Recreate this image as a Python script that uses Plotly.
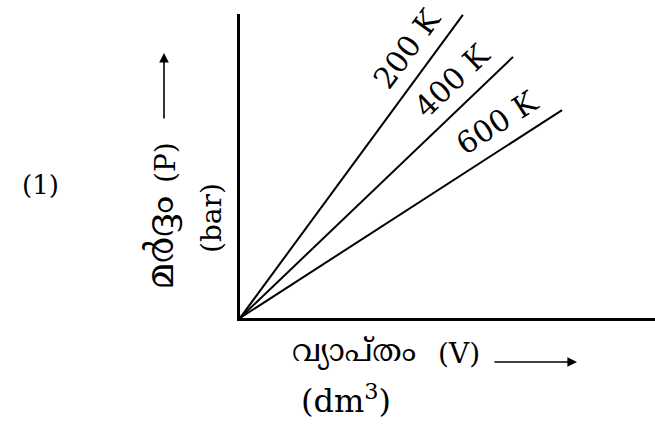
import math
import plotly.graph_objects as go

# Isotherm labels and end points of each straight line (V in dm3, P in bar)
temps = ["200 K", "400 K", "600 K"]
v_end = [5.37, 6.58, 7.76]
p_end = [9.97, 8.59, 6.84]

W, H = 655, 430
X0, X1 = 240, 655      # pixel extent of the x axis
Y0, Y1 = 318, 14       # pixel extent of the y axis (bottom, top)
XR, YR = [0, 10], [0, 10]
px_x = (X1 - X0) / (XR[1] - XR[0])
px_y = (Y0 - Y1) / (YR[1] - YR[0])

SERIF = "DejaVu Serif, Liberation Serif, serif"
MAL = "Noto Serif Malayalam, Noto Sans Malayalam, Lohit Malayalam, Rachana, Meera, " + SERIF

fig = go.Figure()
annotations = []
for name, v, p in zip(temps, v_end, p_end):
    fig.add_trace(go.Scatter(x=[0, v], y=[0, p], mode="lines",
                             line=dict(color="black", width=2),
                             showlegend=False, hoverinfo="skip"))
    dx, dy = v * px_x, p * px_y
    length = math.hypot(dx, dy)
    ang = math.degrees(math.atan2(dy, dx))
    ux, uy = dx / length, dy / length
    f = 0.84
    off = 25
    annotations.append(dict(
        x=v * f, y=p * f, xref="x", yref="y", text=name, showarrow=False,
        xanchor="center", yanchor="middle",
        textangle=-ang, xshift=-uy * off, yshift=ux * off,
        font=dict(family=SERIF, size=30, color="black")))


def px(x, y):
    return x / W, 1 - y / H


def label(x, y, text, family, size, angle=0):
    xp, yp = px(x, y)
    return dict(x=xp, y=yp, xref="paper", yref="paper", xanchor="center",
                yanchor="middle", text=text, showarrow=False, textangle=angle,
                font=dict(family=family, size=size, color="black"))


def arrow(x, y, ax, ay):
    xp, yp = px(x, y)
    return dict(x=xp, y=yp, xref="paper", yref="paper", text="",
                showarrow=True, ax=ax, ay=ay, arrowhead=2, arrowsize=1.2,
                arrowwidth=1.6, arrowcolor="black")


# x-axis title
annotations.append(label(354, 353, "വ്യാപ്തം", MAL, 31))
annotations.append(label(459, 353, "(V)", SERIF, 28))
annotations.append(label(346, 399, "(dm<sup>3</sup>)", SERIF, 32))
annotations.append(arrow(577, 362, -84, 0))

# y-axis title
annotations.append(label(164, 243, "മർദ്ദം", MAL, 38, -90))
annotations.append(label(165, 162, "(P)", SERIF, 28, -90))
annotations.append(label(211, 218, "(bar)", SERIF, 28, -90))
annotations.append(arrow(164, 53, 0, 67))

annotations.append(label(40, 185, "(1)", SERIF, 26))

axis_common = dict(showline=True, linewidth=3, linecolor="black", showgrid=False,
                   zeroline=False, showticklabels=False, ticks="", fixedrange=True)
fig.update_layout(
    width=W, height=H, margin=dict(l=0, r=0, t=0, b=0),
    paper_bgcolor="white", plot_bgcolor="white",
    xaxis=dict(domain=[X0 / W, X1 / W], range=XR, **axis_common),
    yaxis=dict(domain=[1 - Y0 / H, 1 - Y1 / H], range=YR, **axis_common),
    annotations=annotations,
)
fig.write_html("out.html")
